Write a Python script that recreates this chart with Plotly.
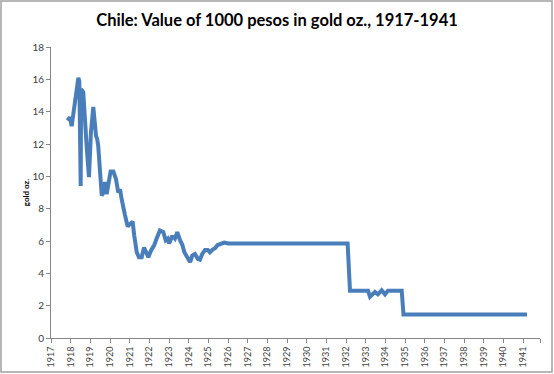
import plotly.graph_objects as go

# Decimal year positions and value of 1000 pesos in gold oz.
years = [
    1917.83, 1917.97, 1918.05, 1918.17, 1918.27, 1918.39, 1918.44, 1918.51, 1918.53, 1918.64,
    1918.81, 1918.93, 1919.03, 1919.15, 1919.29, 1919.35, 1919.40, 1919.49, 1919.58, 1919.66,
    1919.75, 1919.83, 1919.91, 1920.03, 1920.17, 1920.30, 1920.42, 1920.51, 1920.59, 1920.68,
    1920.76, 1920.90, 1921.10, 1921.15, 1921.23, 1921.36, 1921.47, 1921.61, 1921.73, 1921.87,
    1921.95, 1922.08, 1922.25, 1922.37, 1922.54, 1922.71, 1922.83, 1922.93, 1923.01, 1923.14,
    1923.22, 1923.30, 1923.42, 1923.56, 1923.68, 1923.78, 1923.90, 1924.07, 1924.18, 1924.32,
    1924.46, 1924.57, 1924.69, 1924.83, 1924.97, 1925.08, 1925.20, 1925.34, 1925.47, 1925.64,
    1925.81, 1926.01, 1927.60, 1927.70, 1928.60, 1928.70, 1930.60, 1930.65, 1930.70, 1932.08,
    1932.20, 1933.12, 1933.22, 1933.47, 1933.62, 1933.81, 1933.98, 1934.13, 1934.83, 1934.92,
    1941.20,
]
values = [
    13.45, 13.65, 13.1, 14.3, 14.8, 16.1, 15.9, 9.4, 15.4, 15.2,
    11.9, 9.95, 12.7, 14.3, 12.5, 12.3, 11.9, 9.85, 8.8, 9.0,
    9.65, 8.9, 9.45, 10.3, 10.3, 9.85, 9.0, 9.2, 8.6, 8.0,
    7.6, 6.9, 7.1, 7.2, 6.35, 5.3, 5.0, 5.0, 5.6, 5.2,
    5.0, 5.4, 5.75, 6.15, 6.65, 6.55, 6.05, 6.15, 5.85, 6.25,
    6.25, 6.15, 6.55, 6.05, 5.75, 5.3, 5.0, 4.7, 5.1, 5.2,
    4.9, 4.85, 5.2, 5.45, 5.45, 5.3, 5.45, 5.55, 5.75, 5.85,
    5.9, 5.85, 5.85, 5.9, 5.9, 5.85, 5.85, 5.9, 5.85, 5.85,
    2.92, 2.92, 2.55, 2.85, 2.7, 2.95, 2.7, 2.92, 2.92, 1.45,
    1.45,
]

tick_years = list(range(1917, 1942))
tick_labels = [str(y) for y in tick_years]
y_ticks = list(range(0, 19, 2))

fig = go.Figure()
fig.add_trace(go.Scatter(
    x=years, y=values, mode="lines",
    line=dict(color="#4A7EBB", width=4),
    showlegend=False, hoverinfo="skip",
))

axis_color = "#868686"
font_family = "Lato, Liberation Sans, sans-serif"
fig.update_layout(
    width=554, height=374,
    margin=dict(l=51, r=14, t=47, b=36),
    paper_bgcolor="white", plot_bgcolor="white",
    title=dict(
        text="<b>Chile: Value of 1000 pesos in gold oz., 1917-1941</b>",
        x=0.5, xref="container", xanchor="center",
        y=1 - 20 / 374, yref="container", yanchor="middle",
        font=dict(family=font_family, size=16.5, color="#000000"),
    ),
    xaxis=dict(
        range=[1917, 1941.86], automargin=False,
        tickvals=tick_years + [1941.86], ticktext=tick_labels + [""],
        tickangle=-90,
        ticks="outside", ticklen=4, tickcolor=axis_color, tickwidth=1,
        showline=True, linecolor=axis_color, linewidth=1,
        showgrid=False, zeroline=False,
        tickfont=dict(family=font_family, size=9, color="#404040"),
    ),
    yaxis=dict(
        range=[0, 18], tickvals=y_ticks, automargin=False,
        ticks="outside", ticklen=4, tickcolor=axis_color, tickwidth=1,
        showline=True, linecolor=axis_color, linewidth=1,
        showgrid=False, zeroline=False,
        tickfont=dict(family=font_family, size=10, color="#404040"),
        title=dict(text="<b>gold oz.</b>", standoff=1,
                   font=dict(family=font_family, size=8, color="#000000")),
    ),
)

# chart-area border
pw, ph = 554 - 51 - 14, 374 - 47 - 36
fig.add_shape(
    type="rect", xref="paper", yref="paper",
    x0=(1 - 51) / pw, x1=(552 - 51) / pw,
    y0=(374 - 36 - 372) / ph, y1=(374 - 36 - 1) / ph,
    line=dict(color="#A0A0A0", width=1.5), fillcolor="rgba(0,0,0,0)", layer="below",
)

fig.write_html(
    "out.html",
    config={"displayModeBar": False, "staticPlot": True},
    post_script="document.body.style.margin='0';document.body.style.overflow='hidden';",
)
